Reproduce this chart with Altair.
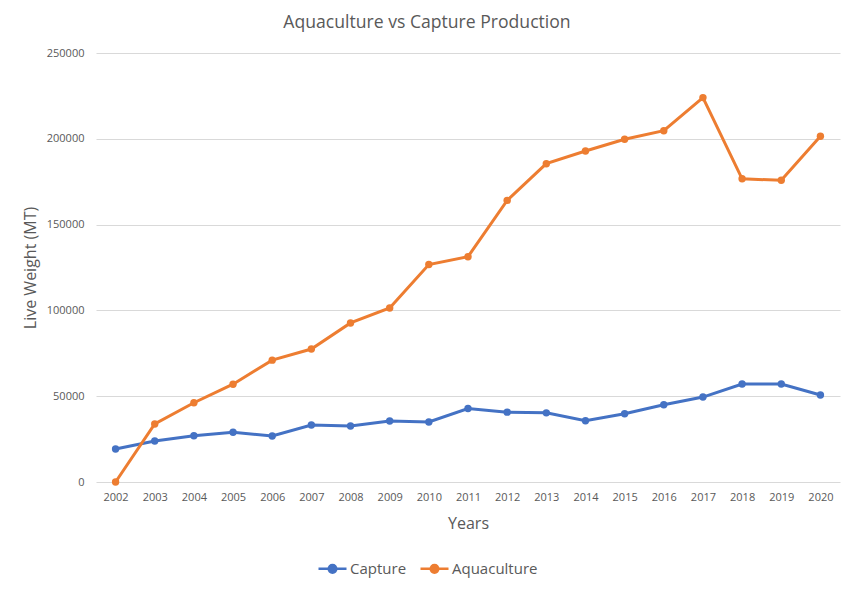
import altair as alt
import pandas as pd

years = [str(y) for y in range(2002, 2021)]
capture = [19200, 23900, 27000, 29000, 26800, 33200, 32600, 35500, 35000, 42800,
           40700, 40300, 35700, 39800, 45000, 49500, 57100, 57100, 50700]
aquaculture = [0, 33800, 46200, 57000, 71000, 77500, 92700, 101400, 126700, 131300,
               164100, 185500, 192900, 199700, 204700, 224000, 176700, 175800, 201500]
series = ["Capture", "Aquaculture"]
colors = ["#4472C4", "#ED7D31"]

rows = []
for i, y in enumerate(years):
    rows.append({"Year": y, "Series": "Capture", "Value": capture[i]})
    rows.append({"Year": y, "Series": "Aquaculture", "Value": aquaculture[i]})
df = pd.DataFrame(rows)

FONT = "Open Sans"
GREY = "#595959"

x = alt.X("Year:O", scale=alt.Scale(type="point", padding=0.5),
          axis=alt.Axis(title="Years", labelAngle=0, labelFontSize=11, labelColor=GREY,
                        titleFontSize=16, titleColor=GREY, titleFontWeight="normal",
                        labelPadding=9, titlePadding=13, ticks=False, domain=False, grid=False))
y = alt.Y("Value:Q", scale=alt.Scale(domain=[0, 250000]),
          axis=alt.Axis(title="Live Weight (MT)", values=[0, 50000, 100000, 150000, 200000, 250000],
                        format="d", labelFontSize=11, labelColor=GREY, labelPadding=12,
                        titleFontSize=16, titleColor=GREY, titleFontWeight="normal",
                        titlePadding=8, ticks=False, domain=False, gridColor="#d9d9d9",
                        gridWidth=1))
color = alt.Color("Series:N", scale=alt.Scale(domain=series, range=colors),
                  legend=alt.Legend(title=None, orient="none", direction="horizontal",
                                    legendX=221, legendY=500,
                                    symbolType="M-1,0L1,0M-0.27,0A0.27,0.27 0 1,1 0.27,0A0.27,0.27 0 1,1 -0.27,0Z",
                                    symbolSize=784, symbolStrokeWidth=2.5,
                                    labelFontSize=15, labelColor=GREY, labelFont=FONT,
                                    columnPadding=8, labelOffset=2))

base = alt.Chart(df)
lines = base.mark_line(strokeWidth=3).encode(x=x, y=y, color=color)
points = base.mark_point(filled=True, size=55, opacity=1).encode(x=x, y=y, color=color)

chart = alt.layer(lines, points).properties(
    width=744, height=429,
    title=alt.TitleParams("Aquaculture vs Capture Production", fontSize=17.6, color=GREY,
                          font=FONT, fontWeight="normal", anchor="middle", dx=-41, offset=15),
    autosize=alt.AutoSizeParams(type="none"),
    padding={"left": 88, "top": 45, "right": 10, "bottom": 100},
).configure(font=FONT).configure_view(stroke=None).configure_axis(labelFont=FONT, titleFont=FONT)

chart.save("out.html", embed_options={"renderer": "svg", "actions": False})
